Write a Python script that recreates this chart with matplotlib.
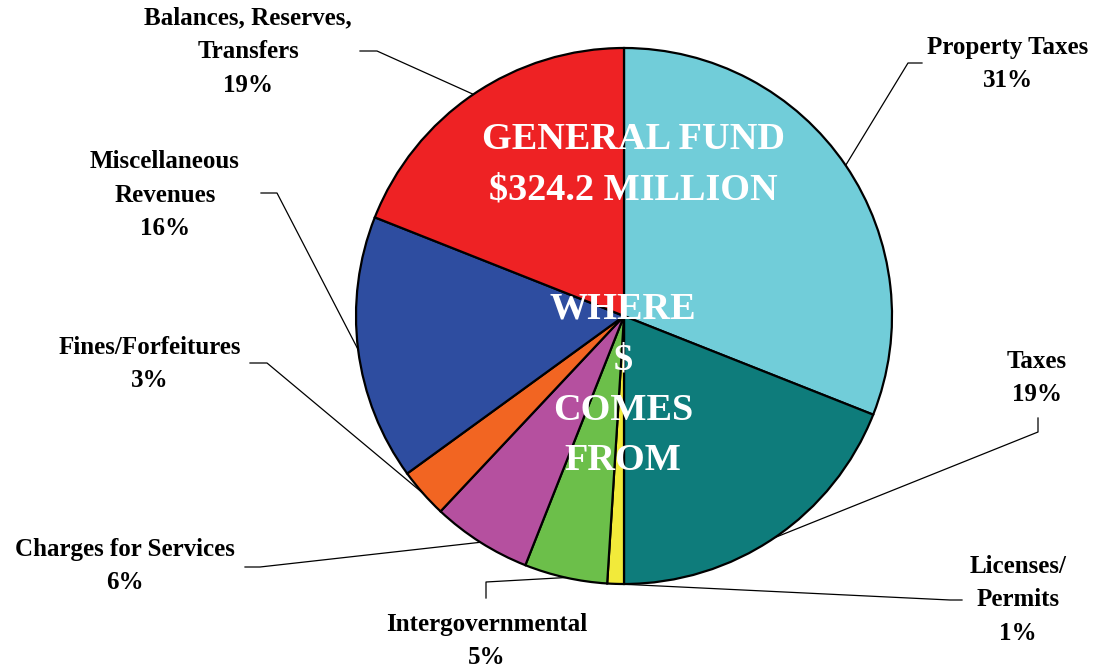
import numpy as np
import matplotlib
matplotlib.use("Agg")
import matplotlib.pyplot as plt

# general fund revenue sources, percent of total
sources = ["Property Taxes", "Taxes", "Licenses/\nPermits", "Intergovernmental",
           "Charges for Services", "Fines/Forfeitures", "Miscellaneous\nRevenues",
           "Balances, Reserves,\nTransfers"]
shares = [31, 19, 1, 5, 6, 3, 16, 19]
colors = ["#71CDD9", "#0E7C7B", "#F2EA3A", "#6CBF4A",
          "#B5509F", "#F26522", "#2E4DA0", "#EE2224"]

W, H = 1095, 668
cx, cy, r = 624, H - 316, 268

# label layout in pixel coords (y down): text centre, elbow, tail end
layout = [
    ((1008, 64), (908, 63), (922, 63)),
    ((1037, 378), (1038, 432), (1038, 418)),
    ((1018, 600), (950, 600), (962, 600)),
    ((487, 641), (486, 582), (486, 598)),
    ((125, 566), (260, 567), (245, 567)),
    ((150, 364), (267, 363), (250, 363)),
    ((165, 195), (277, 193), (261, 193)),
    ((248, 52), (377, 51), (360, 51)),
]

plt.rcParams["font.family"] = ["Liberation Serif", "DejaVu Serif"]
plt.rcParams["font.weight"] = "bold"

fig = plt.figure(figsize=(W / 100, H / 100), dpi=100)
ax = fig.add_axes([0, 0, 1, 1])

wedges, _ = ax.pie(shares, colors=colors, startangle=90, counterclock=False,
                   center=(cx, cy), radius=r, frame=True,
                   wedgeprops=dict(edgecolor="black", linewidth=1.6))
ax.set_xlim(0, W)
ax.set_ylim(0, H)
ax.axis("off")

for w, name, val, (txt, elbow, tail) in zip(wedges, sources, shares, layout):
    mid = np.deg2rad((w.theta1 + w.theta2) / 2)
    sx, sy = cx + r * np.cos(mid), cy + r * np.sin(mid)
    xs = [sx, elbow[0], tail[0]]
    ys = [sy, H - elbow[1], H - tail[1]]
    ax.plot(xs, ys, color="black", linewidth=0.9, zorder=5)
    ax.text(txt[0], H - txt[1], f"{name}\n{val}%", ha="center", va="center",
            fontsize=18, fontweight="bold", linespacing=1.6)

ax.text(633, H - 165, "GENERAL FUND\n$324.2 MILLION", ha="center", va="center",
        color="white", fontsize=27.5, fontweight="bold", linespacing=1.58, zorder=6)
ax.text(623, H - 385, "WHERE\n$\nCOMES\nFROM", ha="center", va="center",
        color="white", fontsize=27.5, fontweight="bold", linespacing=1.58, zorder=6)

fig.savefig("out.png", dpi=100)
